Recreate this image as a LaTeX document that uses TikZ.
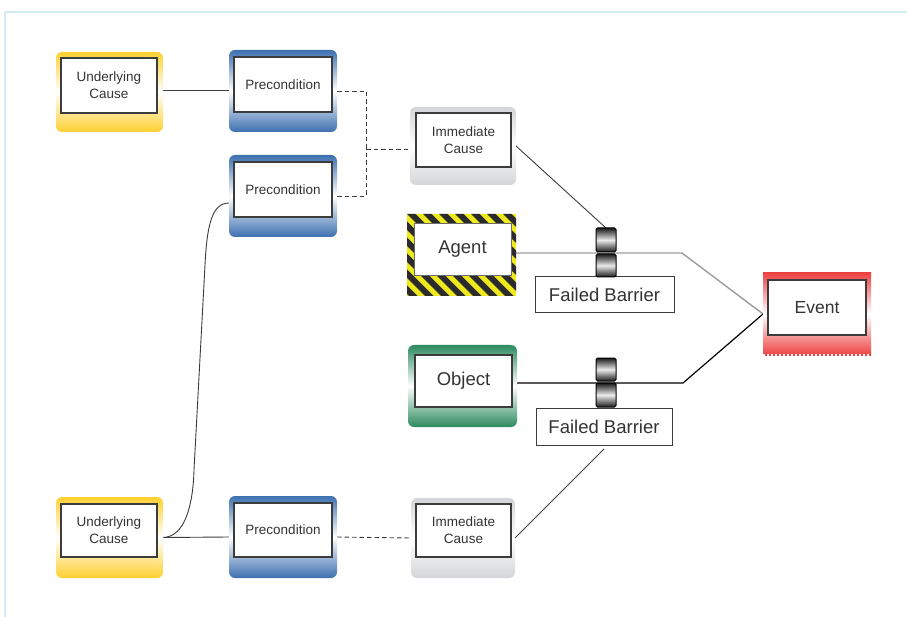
\documentclass[tikz,border=0pt]{standalone}
\usepackage{fontspec}
\setmainfont{Liberation Sans}
\usetikzlibrary{backgrounds}
\definecolor{framec}{HTML}{D4EAF4}
\definecolor{ylw}{HTML}{FFD030}
\definecolor{blu}{HTML}{3D70B0}
\definecolor{gry}{HTML}{D4D5D8}
\definecolor{grn}{HTML}{2C8A5E}
\definecolor{rd}{HTML}{EE4242}
\definecolor{hazy}{HTML}{EFEA1C}
\definecolor{hazb}{HTML}{2B2B2B}
\definecolor{txt}{HTML}{333333}
\definecolor{ln}{HTML}{3C3C3C}
\definecolor{agl}{HTML}{9C9C9C}
\begin{document}
\begin{tikzpicture}[x=1pt,y=-1pt,
  shadebox/.style={inner sep=0pt,outer sep=0pt,rounded corners=6pt,top color=#1,bottom color=#1,middle color=white},
  whitebox/.style={draw=ln,line width=1.4pt,fill=white,inner sep=0pt,outer sep=0pt,align=center,text=txt},
  smalltext/.style={font=\fontsize{13.5}{17}\selectfont},
  bigtext/.style={font=\fontsize{18.5}{22}\selectfont},
  barblock/.style={draw=black,line width=1pt,rounded corners=1.5pt,top color=black!90,bottom color=black!90,middle color=black!8,minimum width=20pt,inner sep=0pt,outer sep=0pt},
  fbbox/.style={draw=ln,line width=1pt,fill=white,inner sep=0pt,outer sep=0pt,text=txt,font=\fontsize{18.5}{22}\selectfont},
  conn/.style={draw=ln,line width=0.9pt},
  dconn/.style={conn,dash pattern=on 4.5pt off 3pt},
  hazard/.style={inner sep=0pt,outer sep=0pt,path picture={
    \fill[hazy] (path picture bounding box.south west) rectangle (path picture bounding box.north east);
    \foreach \k in {-7,...,9}{
      \fill[hazb] ([xshift=\k*16pt]path picture bounding box.north west) -- ++(8.5pt,0pt) -- ++(90pt,-90pt) -- ++(-8.5pt,0pt) -- cycle;}}}
]
\useasboundingbox (0,0) rectangle (907,617);

% outer coloured boxes
\node[shadebox=ylw,minimum width=107pt,minimum height=80pt] (uc1o) at (109.5,92) {};
\node[shadebox=blu,minimum width=108pt,minimum height=82pt] (p1o) at (283,91) {};
\node[shadebox=blu,minimum width=108pt,minimum height=82pt] (p2o) at (283,196) {};
\node[shadebox=gry,minimum width=106pt,minimum height=78pt] (ic1o) at (463,146) {};
\node[hazard,minimum width=109pt,minimum height=82pt] (ago) at (461.5,255) {};
\node[shadebox=grn,minimum width=109pt,minimum height=82pt] (obo) at (462.5,386) {};
\node[shadebox=rd,rounded corners=0pt,minimum width=108pt,minimum height=82pt] (evo) at (817,314) {};
\node[shadebox=ylw,minimum width=107pt,minimum height=81pt] (uc2o) at (109.5,537.5) {};
\node[shadebox=blu,minimum width=108pt,minimum height=82pt] (p3o) at (283,537) {};
\node[shadebox=gry,minimum width=104pt,minimum height=80pt] (ic2o) at (463,538) {};
\draw[white,line width=1.5pt,dash pattern=on 1.5pt off 2.5pt] (evo.south west) -- (evo.south east);

% inner white boxes
\node[whitebox,smalltext,minimum width=96pt,minimum height=55pt] (uc1) at (109,85.5) {Underlying\\Cause};
\node[whitebox,smalltext,minimum width=98pt,minimum height=55pt] (p1) at (283,84.5) {Precondition};
\node[whitebox,smalltext,minimum width=98pt,minimum height=55pt] (p2) at (283,189.5) {Precondition};
\node[whitebox,smalltext,minimum width=95pt,minimum height=54pt] (ic1) at (463.5,140) {Immediate\\Cause};
\node[whitebox,bigtext,line width=0.6pt,draw=hazb!70,minimum width=97pt,minimum height=52pt] (ag) at (462.5,249) {Agent};
\node[whitebox,bigtext,minimum width=97pt,minimum height=52pt] (ob) at (463.5,381) {Object};
\node[whitebox,font=\fontsize{17.5}{21}\selectfont,minimum width=98pt,minimum height=55pt] (ev) at (817,307.5) {Event};
\node[whitebox,smalltext,minimum width=96pt,minimum height=53pt] (uc2) at (109,530.5) {Underlying\\Cause};
\node[whitebox,smalltext,minimum width=98pt,minimum height=54pt] (p3) at (283,530) {Precondition};
\node[whitebox,smalltext,minimum width=95pt,minimum height=53pt] (ic2) at (463.5,530.5) {Immediate\\Cause};

% failed barriers
\node[fbbox,minimum width=139pt,minimum height=36pt] (fb1) at (604.5,295) {Failed Barrier};
\node[fbbox,minimum width=136pt,minimum height=37pt] (fb2) at (604,426.5) {Failed Barrier};
\node[barblock,minimum height=24pt] (b1a) at (606,240) {};
\node[barblock,minimum height=23pt] (b1b) at (606,265.5) {};
\node[barblock,minimum height=23pt] (b2a) at (606,369.5) {};
\node[barblock,minimum height=24pt] (b2b) at (606,395) {};

\begin{pgfonlayer}{background}
\draw[framec,line width=1.2pt] (5,617) -- (5,12) -- (907,12);
\coordinate (j1) at (366,149);
\coordinate (c1) at (682,253);
\coordinate (c2) at (683,383);
\draw[conn] ([yshift=2pt]uc1o.east) -- ([yshift=2pt]uc1o.east -| p1o.west);
\draw[dconn] (p1o.east) -| (j1);
\draw[dconn] (p2o.east) -| (j1);
\draw[dconn] (j1) -- (j1 -| ic1o.west);
\draw[conn] (ic1o.east) -- (b1a.north);
\draw[conn,draw=agl,line width=1.4pt] (ago.east |- c1) -- (c1) -- (evo.west);
\draw[conn,draw=black,line width=1.2pt] (obo.east |- c2) -- (c2) -- (evo.west);
\draw[conn] (uc2o.east) -- (p3o.west);
\draw[dconn] (p3o.east) -- (ic2o.west);
\draw[conn] (ic2o.east) -- ([yshift=-4pt]fb2.south);
\draw[conn] (uc2o.east) .. controls (185,537) and (193,505) .. (194,470) -- (205,265) .. controls (207,225) and (212,203) .. (p2o.west |- 0,203);
\end{pgfonlayer}
\end{tikzpicture}
\end{document}
